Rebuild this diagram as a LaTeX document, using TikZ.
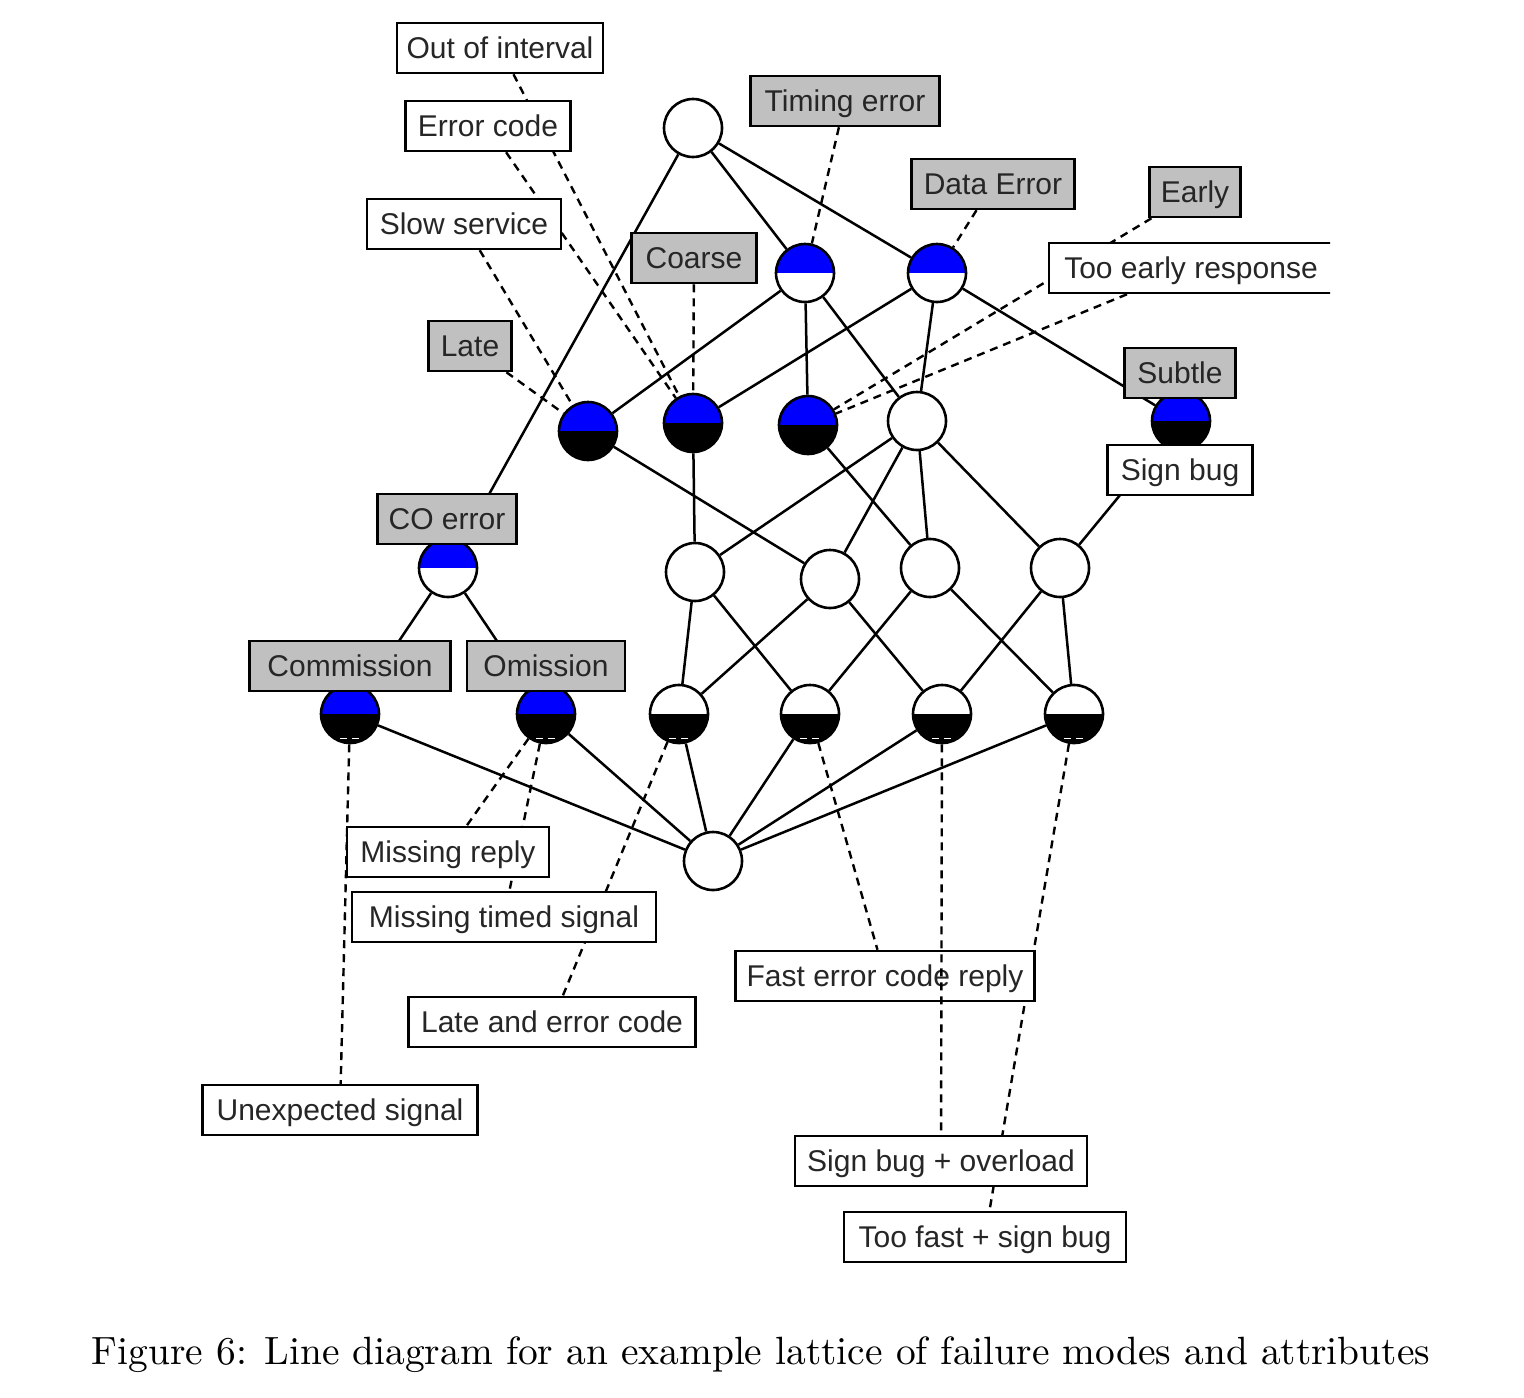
\documentclass[tikz,border=0pt]{standalone}
\usepackage{fontspec}
\usepackage{graphicx}
\newfontfamily\labfont{Liberation Sans}
\usetikzlibrary{backgrounds}
\definecolor{lbgray}{RGB}{192,192,192}
\definecolor{nodeblue}{RGB}{0,0,255}
\begin{document}
\begin{tikzpicture}[x=0.5pt,y=-0.5pt,
  conc/.style={circle, draw, line width=1.3pt, minimum size=29pt, inner sep=0pt},
  half/.style 2 args={conc, path picture={
     \fill[#1] (path picture bounding box.north west) rectangle (path picture bounding box.east);
     \fill[#2] (path picture bounding box.west) rectangle (path picture bounding box.south east);}},
  halfm/.style 2 args={conc, path picture={
     \fill[#1] (path picture bounding box.north west) rectangle (path picture bounding box.east);
     \fill[#2] (path picture bounding box.west) rectangle (path picture bounding box.south east);
     \draw[white, line width=0.8pt, dash pattern=on 3.5pt off 2.5pt] ([xshift=-5pt,yshift=-12.3pt]path picture bounding box.center) -- ++(10pt,0pt);}},
  lab/.style={draw, line width=1.25pt, fill=white, text=black!85,
     font=\labfont\fontsize{15}{18}\selectfont, minimum height=25pt, inner sep=0pt,
     text height=12.6pt, text depth=2pt},
  att/.style={lab, fill=lbgray},
  edgeln/.style={line width=1.25pt},
  lk/.style={line width=1.2pt, dash pattern=on 4pt off 3pt}
]
\useasboundingbox (0,0) rectangle (1524,1397);
% concepts
\node[half={white}{white}] (T) at (693,128) {};
\node[half={nodeblue}{white}] (A1) at (805,273) {};
\node[half={nodeblue}{white}] (A2) at (937,273) {};
\node[half={nodeblue}{black}] (B1) at (588,431) {};
\node[half={nodeblue}{black}] (B2) at (693,423) {};
\node[half={nodeblue}{black}] (B3) at (808,425) {};
\node[half={white}{white}] (B4) at (917,421) {};
\node[half={nodeblue}{black}] (B5) at (1181,421) {};
\node[half={nodeblue}{white}] (CO) at (448,568) {};
\node[half={white}{white}] (C1) at (695,572) {};
\node[half={white}{white}] (C2) at (830,579) {};
\node[half={white}{white}] (C3) at (930,568) {};
\node[half={white}{white}] (C4) at (1060,568) {};
\node[halfm={nodeblue}{black}] (D0) at (350,714) {};
\node[halfm={nodeblue}{black}] (D1) at (546,714) {};
\node[halfm={white}{black}] (D2) at (679,714) {};
\node[halfm={white}{black}] (D3) at (810,714) {};
\node[halfm={white}{black}] (D4) at (942,714) {};
\node[halfm={white}{black}] (D5) at (1074,714) {};
\node[half={white}{white}] (Bot) at (713,861) {};
% labels
\node[lab, minimum width=103pt] (outint) at (500,48) {Out of interval};
\node[lab, minimum width=82.5pt] (errcode) at (488,126) {Error code};
\node[lab, minimum width=97pt] (slow) at (464,224) {Slow service};
\node[att, minimum width=41.5pt] (late) at (470,346) {Late};
\node[att, minimum width=62.5pt] (coarse) at (694,258) {Coarse};
\node[att, minimum width=94.5pt] (timing) at (845,101) {Timing error};
\node[att, minimum width=81.5pt] (data) at (993,184) {Data Error};
\node[att, minimum width=45.5pt] (early) at (1195,192) {Early};
\begin{scope}
  \clip (1000,200) rectangle (1330,320);
  \node[lab, minimum width=142pt] (tooearly) at (1191,268) {Too early response};
\end{scope}
\node[att, minimum width=55.5pt] (subtle) at (1180,373) {Subtle};
\node[lab, minimum width=72.5pt] (signbug) at (1180,470) {Sign bug};
\node[att, minimum width=69.5pt] (coerr) at (447,519) {CO error};
\node[att, minimum width=100.5pt] (commis) at (350,666) {Commission};
\node[att, minimum width=79pt] (omis) at (546,666) {Omission};
\node[lab, minimum width=101pt] (missrep) at (448,852) {Missing reply};
\node[lab, minimum width=152pt] (misstimed) at (504,917) {Missing timed signal};
\node[lab, minimum width=143.5pt] (lateerr) at (552,1022) {Late and error code};
\node[lab, minimum width=137.5pt] (unexp) at (340,1110) {Unexpected signal};
\node[lab, minimum width=149.5pt] (fastec) at (885,976) {Fast error code reply};
\node[lab, minimum width=146pt] (signover) at (941,1161) {Sign bug + overload};
\node[lab, minimum width=141pt] (toofast) at (985,1237) {Too fast + sign bug};
% caption
\node (cap) at (761,1355) {\resizebox{669pt}{!}{Figure 6: Line diagram for an example lattice of failure modes and attributes}};
\begin{scope}[on background layer]
  \fill[white] (0,0) rectangle (1524,1397);
  \draw[edgeln] (T)--(A1) (T)--(A2) (T)--(CO)
    (A1)--(B1) (A1)--(B3) (A1)--(B4)
    (A2)--(B2) (A2)--(B4) (A2)--(B5)
    (B1)--(C2) (B2)--(C1) (B3)--(C3)
    (B4)--(C1) (B4)--(C2) (B4)--(C3) (B4)--(C4) (B5)--(C4)
    (CO)--(D0) (CO)--(D1)
    (C1)--(D2) (C1)--(D3) (C2)--(D2) (C2)--(D4)
    (C3)--(D3) (C3)--(D5) (C4)--(D4) (C4)--(D5)
    (D0)--(Bot) (D1)--(Bot) (D2)--(Bot) (D3)--(Bot) (D4)--(Bot) (D5)--(Bot);
  \draw[lk] (outint)--(B2) (errcode)--(B2) (slow)--(B1) (late)--(B1)
    (coarse)--(B2) (timing)--(A1) (data)--(A2) (early)--(B3) (tooearly)--(B3)
    (D0)--(unexp) (D1)--(missrep) (D1)--(misstimed) (D2)--(lateerr)
    (D3)--(fastec) (D5)--(toofast);
\end{scope}
\draw[lk] (D4)--(signover);
\end{tikzpicture}
\end{document}
